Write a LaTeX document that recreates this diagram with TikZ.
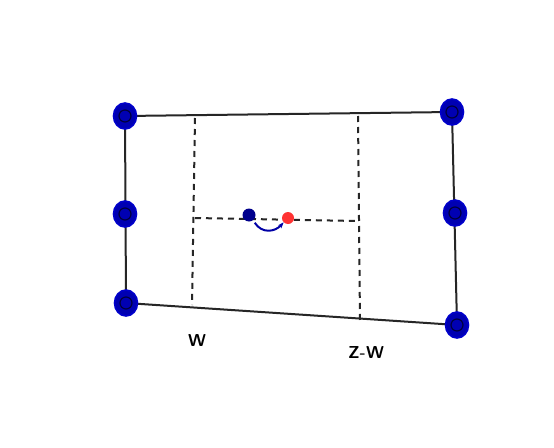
\documentclass[tikz,border=0pt]{standalone}
\usetikzlibrary{arrows.meta,shapes.geometric}
\begin{document}
\begin{tikzpicture}[x=1pt,y=-1pt,
  edge/.style={draw=black!85,line width=2pt},
  guide/.style={draw=black!85,line width=2pt,dash pattern=on 6pt off 5pt},
  bluemark/.style={ellipse,fill=blue!70!black,draw=blue!80!black,line width=1.6pt,minimum width=23pt,minimum height=26pt,inner sep=0pt,
     path picture={\draw[blue!25!black,line width=1.2pt] (path picture bounding box.center) circle (6pt);}},
  reddot/.style={circle,fill=red!80!white,minimum size=12pt,inner sep=0pt},
  bluedot/.style={circle,fill=blue!55!black,minimum size=13pt,inner sep=0pt},
  lab/.style={font=\sffamily\bfseries\LARGE}]
\useasboundingbox[fill=white] (0,0) rectangle (554,447);
\coordinate (TL) at (125,116);
\coordinate (TR) at (452,112);
\coordinate (BR) at (457,325);
\coordinate (BL) at (126,303);
\draw[edge] (TL) -- (TR) -- (BR) -- (BL) -- cycle;
\coordinate (A1) at (195,118);
\coordinate (A2) at (192,305);
\coordinate (B1) at (358,116);
\coordinate (B2) at (360,322);
\coordinate (H1) at (195,218);
\coordinate (H2) at (357,221);
\draw[guide] (A1) -- (A2);
\draw[guide] (B1) -- (B2);
\draw[guide] (H1) -- (H2);
\node[bluemark] (m1) at (TL) {};
\node[bluemark] (m2) at (125,214) {};
\node[bluemark] (m3) at (BL) {};
\node[bluemark] (m4) at (TR) {};
\node[bluemark] (m5) at (455,213) {};
\node[bluemark] (m6) at (BR) {};
\node[bluedot] (bd) at (249,215) {};
\node[reddot] (rd) at (288,218) {};
\draw[blue!65!black,line width=2pt,-{Stealth[length=6pt]}] (bd.south east) ++(1,3) .. controls (262,234) and (275,232) .. (rd.south west);
\node[lab] (w) at (197,340) {W};
\node[lab] (zw) at (366,352) {Z-W};
\end{tikzpicture}
\end{document}
